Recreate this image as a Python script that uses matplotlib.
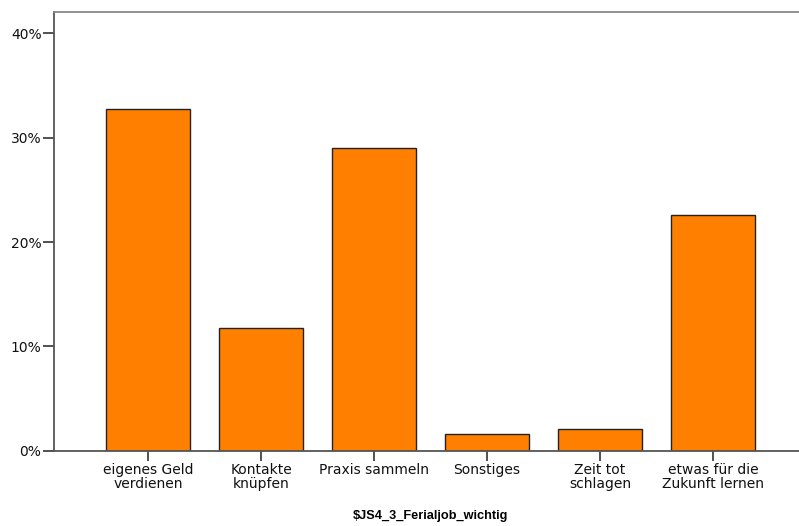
import matplotlib
matplotlib.use("Agg")
import matplotlib.pyplot as plt
from matplotlib.ticker import FuncFormatter

categories = ["eigenes Geld\nverdienen", "Kontakte\nknüpfen", "Praxis sammeln",
              "Sonstiges", "Zeit tot\nschlagen", "etwas für die\nZukunft lernen"]
percent = [32.8, 11.8, 29.0, 1.6, 2.1, 22.6]
yticks = [0, 10, 20, 30, 40]
xlabel = "$JS4_3_Ferialjob_wichtig"

plt.rcParams['font.family'] = ['DejaVu Sans']

W, H = 799, 526
fig = plt.figure(figsize=(W/100, H/100), dpi=100)
left, right, top, bottom = 54, 807, 12, 450.7
ax = fig.add_axes([left/W, (H-bottom)/H, (right-left)/W, (bottom-top)/H])

x = list(range(len(categories)))
ax.bar(x, percent, width=0.75, color="#FF8000", edgecolor="#222222", linewidth=1.0, zorder=2)

ax.set_xlim(-0.832, 5.832)
ax.set_ylim(0, 42.06)
ax.set_yticks(yticks)
ax.yaxis.set_major_formatter(FuncFormatter(lambda v, p: f"{int(v)}%"))
ax.set_xticks(x)
ax.set_xticklabels(categories, fontsize=10, linespacing=0.95, color="#111111")
ax.tick_params(axis='y', labelsize=10, length=8, width=1.2, color="#333333", pad=1, labelcolor="#111111")
ax.tick_params(axis='x', length=7, width=1.2, color="#333333", pad=2)

for s in ["left", "bottom", "top"]:
    ax.spines[s].set_color("#555555")
    ax.spines[s].set_linewidth(1.3)
ax.spines["right"].set_visible(False)
ax.spines["top"].set_color("#888888")

ax.set_xlabel(xlabel.replace("$", r"\$"), fontsize=9.2, fontweight="bold",
              family=["Liberation Sans Narrow", "Liberation Sans", "DejaVu Sans"], labelpad=14)

fig.savefig("out.png", dpi=100)
